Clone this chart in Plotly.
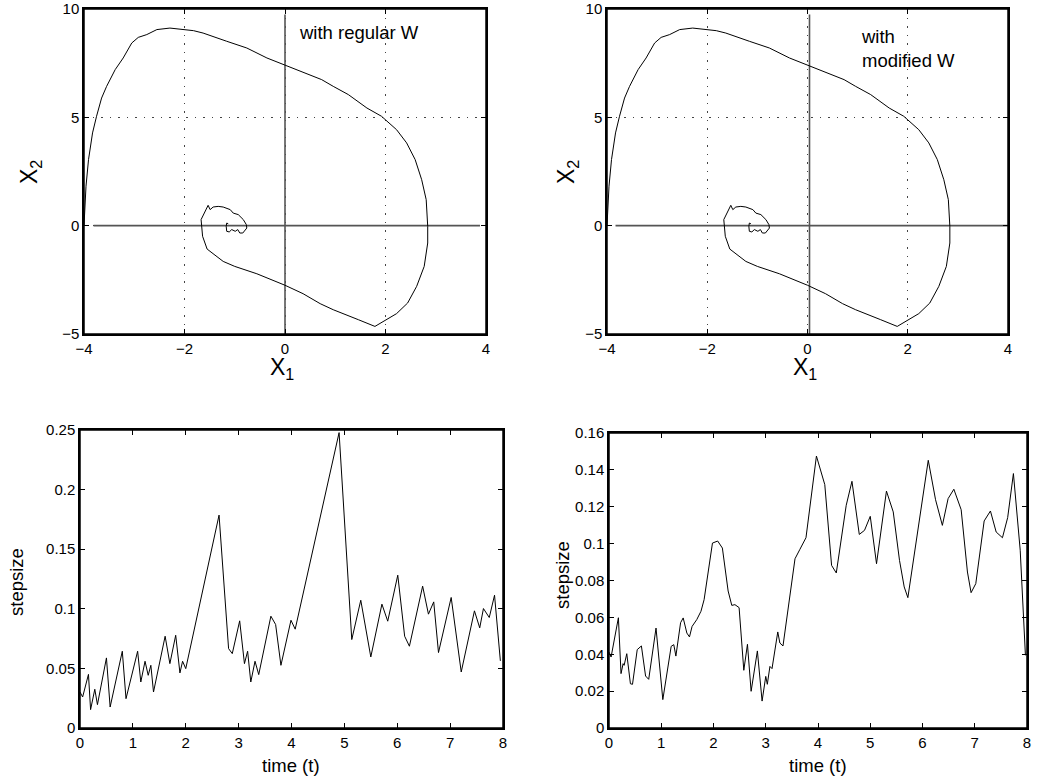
import plotly.graph_objects as go

# ---- phase-plane trajectory (x1, x2) ----
traj_x1 = [-4.0, -3.96, -3.91, -3.83, -3.75, -3.65, -3.55, -3.38, -3.22, -3.05, -2.92, -2.75, -2.55,
           -2.29, -1.82, -1.63, -1.16, -0.76, -0.36, 0.0, 0.36, 0.73, 0.96, 1.26, 1.63, 1.92, 2.22,
           2.42, 2.59, 2.72, 2.81, 2.84, 2.84, 2.77, 2.62, 2.44, 2.22, 1.96, 1.79, 1.46, 0.96, 0.70,
           0.36, 0.0, -0.56, -1.0, -1.23, -1.55, -1.64, -1.67, -1.61, -1.53, -1.49, -1.43, -1.33,
           -1.23, -1.09, -1.03, -0.93, -0.83, -0.77, -0.76, -0.84, -0.90, -0.94, -0.99, -1.06, -1.11,
           -1.16, -1.17, -1.16, -1.13]
traj_x2 = [0.0, 1.82, 3.05, 4.28, 5.05, 5.89, 6.43, 7.2, 7.74, 8.43, 8.69, 8.82, 9.05,
           9.12, 9.0, 8.89, 8.51, 8.2, 7.74, 7.4, 7.08, 6.74, 6.43, 6.05, 5.43, 5.05, 4.43,
           3.82, 3.05, 2.12, 1.2, -0.03, -0.8, -1.88, -2.8, -3.57, -4.06, -4.42, -4.65, -4.34, -3.88, -3.6,
           -3.14, -2.75, -2.22, -1.88, -1.65, -1.08, -0.49, 0.28, 0.58, 0.94, 0.74, 0.86, 0.89,
           0.86, 0.74, 0.58, 0.51, 0.28, 0.05, -0.11, -0.34, -0.34, -0.18, -0.26, -0.18, -0.29,
           -0.26, -0.03, 0.12, 0.09]

# coordinate-axis reference lines drawn in the phase plots
axis_h_left_x = [-3.81, 3.88]
axis_h_right_x = [-3.83, 4.0]
axis_h_y = [0.0, 0.0]
axis_v_left_x = [0.0, 0.0]
axis_v_right_x = [0.04, 0.04]
axis_v_y = [-5.0, 9.75]

# ---- step sizes, regular W ----
t_reg = [0, 0.05, 0.16, 0.2, 0.28, 0.33, 0.5, 0.57, 0.8, 0.87, 1.09, 1.15, 1.23, 1.29, 1.34, 1.39,
         1.61, 1.70, 1.81, 1.89, 1.94, 2.0, 2.63, 2.81, 2.88, 3.02, 3.11, 3.17, 3.23, 3.31, 3.38,
         3.61, 3.70, 3.80, 3.99, 4.07, 4.90, 5.14, 5.31, 5.50, 5.71, 5.82, 6.01, 6.14, 6.23, 6.48,
         6.59, 6.69, 6.78, 7.02, 7.21, 7.46, 7.56, 7.63, 7.74, 7.84, 7.95]
h_reg = [0.0302, 0.026, 0.045, 0.0154, 0.0325, 0.0196, 0.0588, 0.0176, 0.0644, 0.0246, 0.0644,
         0.0386, 0.056, 0.0442, 0.0526, 0.0302, 0.077, 0.054, 0.0778, 0.0462, 0.056, 0.0498,
         0.1786, 0.0666, 0.0624, 0.0899, 0.054, 0.0644, 0.0386, 0.056, 0.0448, 0.0938, 0.0868,
         0.0526, 0.0904, 0.0829, 0.2478, 0.0742, 0.1072, 0.0596, 0.1039, 0.0896, 0.1282, 0.077,
         0.0686, 0.119, 0.0955, 0.1058, 0.0633, 0.1095, 0.047, 0.0983, 0.084, 0.1002, 0.0927,
         0.1114, 0.0563]

# ---- step sizes, modified W ----
t_mod = [0, 0.04, 0.18, 0.23, 0.27, 0.29, 0.34, 0.41, 0.45, 0.54, 0.62, 0.70, 0.76, 0.90, 1.03,
         1.19, 1.24, 1.28, 1.37, 1.42, 1.49, 1.54, 1.59, 1.68, 1.76, 1.82, 1.98, 2.08, 2.17, 2.28,
         2.35, 2.41, 2.49, 2.58, 2.65, 2.72, 2.84, 2.93, 3.00, 3.03, 3.08, 3.12, 3.23, 3.27, 3.33,
         3.56, 3.65, 3.77, 3.97, 4.13, 4.26, 4.35, 4.54, 4.65, 4.79, 4.89, 5.00, 5.12, 5.31, 5.44,
         5.56, 5.65, 5.72, 6.11, 6.25, 6.38, 6.49, 6.60, 6.74, 6.86, 6.93, 7.02, 7.18, 7.30, 7.41,
         7.53, 7.63, 7.74, 7.87, 7.97]
h_mod = [0.0412, 0.0385, 0.0598, 0.0295, 0.0349, 0.034, 0.0403, 0.024, 0.0237, 0.0425, 0.0445,
         0.0282, 0.0264, 0.0542, 0.0154, 0.0443, 0.0452, 0.039, 0.0571, 0.0597, 0.0515, 0.0494,
         0.0551, 0.0588, 0.0633, 0.0696, 0.1003, 0.1014, 0.0976, 0.0743, 0.0665, 0.0669, 0.0653,
         0.0313, 0.0454, 0.0199, 0.0418, 0.0146, 0.028, 0.0237, 0.0334, 0.0322, 0.0521, 0.0461,
         0.0445, 0.0918, 0.0967, 0.1032, 0.1475, 0.132, 0.0882, 0.0841, 0.1208, 0.1338, 0.105,
         0.1072, 0.1148, 0.0891, 0.1285, 0.1172, 0.0909, 0.0765, 0.0707, 0.1452, 0.1238, 0.1099,
         0.1244, 0.1295, 0.1184, 0.0846, 0.0734, 0.0783, 0.1123, 0.1177, 0.1063, 0.1032, 0.1141,
         0.138, 0.0964, 0.0394]

# tick labels
phase_x_ticks = [-4, -2, 0, 2, 4]
phase_x_text = ["\u22124", "\u22122", "0", "2", "4"]
phase_y_ticks = [-5, 0, 5, 10]
phase_y_text = ["\u22125", "0", "5", "10"]
time_ticks = [0, 1, 2, 3, 4, 5, 6, 7, 8]
reg_y_ticks = [0, 0.05, 0.1, 0.15, 0.2, 0.25]
reg_y_text = ["0", "0.05", "0.1", "0.15", "0.2", "0.25"]
mod_y_ticks = [0, 0.02, 0.04, 0.06, 0.08, 0.1, 0.12, 0.14, 0.16]
mod_y_text = ["0", "0.02", "0.04", "0.06", "0.08", "0.1", "0.12", "0.14", "0.16"]

W, H = 1041, 779
FONT = "Liberation Sans, Arial, Helvetica, sans-serif"

fig = go.Figure()

line_style = dict(color="black", width=1)
ax_style = dict(color="#555555", width=1.6)

# top-left
fig.add_trace(go.Scatter(x=axis_h_left_x, y=axis_h_y, mode="lines", line=ax_style, xaxis="x", yaxis="y"))
fig.add_trace(go.Scatter(x=axis_v_left_x, y=axis_v_y, mode="lines", line=ax_style, xaxis="x", yaxis="y"))
fig.add_trace(go.Scatter(x=traj_x1, y=traj_x2, mode="lines", line=line_style, xaxis="x", yaxis="y"))
# top-right
fig.add_trace(go.Scatter(x=axis_h_right_x, y=axis_h_y, mode="lines", line=ax_style, xaxis="x2", yaxis="y2"))
fig.add_trace(go.Scatter(x=axis_v_right_x, y=axis_v_y, mode="lines", line=ax_style, xaxis="x2", yaxis="y2"))
fig.add_trace(go.Scatter(x=traj_x1, y=traj_x2, mode="lines", line=line_style, xaxis="x2", yaxis="y2"))
# bottom
fig.add_trace(go.Scatter(x=t_reg, y=h_reg, mode="lines", line=line_style, xaxis="x3", yaxis="y3"))
fig.add_trace(go.Scatter(x=t_mod, y=h_mod, mode="lines", line=line_style, xaxis="x4", yaxis="y4"))


def px_x(p):
    return p / W


def px_y(p):
    return 1 - p / H


common = dict(showline=True, linecolor="black", linewidth=1.5, mirror="ticks", ticks="inside",
              ticklen=5, tickcolor="black", zeroline=False, automargin=False, ticklabeloverflow="allow",
              tickfont=dict(family=FONT, size=15, color="black"))
grid_on = dict(showgrid=True, gridcolor="#444444", gridwidth=1, griddash="1.5px,7px")
grid_off = dict(showgrid=False)

layout = dict(
    width=W, height=H, showlegend=False,
    paper_bgcolor="white", plot_bgcolor="white",
    margin=dict(l=0, r=0, t=0, b=0),
    font=dict(family=FONT, color="black"),
    xaxis=dict(domain=[px_x(84), px_x(486)], range=[-4, 4], tickvals=phase_x_ticks, ticktext=phase_x_text,
               anchor="y", **common, **grid_on),
    yaxis=dict(domain=[px_y(334), px_y(9)], range=[-5, 10], tickvals=phase_y_ticks, ticktext=phase_y_text,
               anchor="x", **common, **grid_on),
    xaxis2=dict(domain=[px_x(607), px_x(1008)], range=[-4, 4], tickvals=phase_x_ticks, ticktext=phase_x_text,
                anchor="y2", **common, **grid_on),
    yaxis2=dict(domain=[px_y(334), px_y(9)], range=[-5, 10], tickvals=phase_y_ticks, ticktext=phase_y_text,
                anchor="x2", **common, **grid_on),
    xaxis3=dict(domain=[px_x(80), px_x(503)], range=[0, 8], tickvals=time_ticks,
                anchor="y3", **common, **grid_off),
    yaxis3=dict(domain=[px_y(728), px_y(430)], range=[0, 0.25], tickvals=reg_y_ticks, ticktext=reg_y_text,
                anchor="x3", **common, **grid_off),
    xaxis4=dict(domain=[px_x(609), px_x(1027)], range=[0, 8], tickvals=time_ticks,
                anchor="y4", **common, **grid_off),
    yaxis4=dict(domain=[px_y(728), px_y(433)], range=[0, 0.16], tickvals=mod_y_ticks, ticktext=mod_y_text,
                anchor="x4", **common, **grid_off),
)
fig.update_layout(**layout)

# explicit frames around every panel
for xa, ya in [("x", "y"), ("x2", "y2"), ("x3", "y3"), ("x4", "y4")]:
    fig.add_shape(type="rect", xref=f"{xa} domain", yref=f"{ya} domain", x0=0, x1=1, y0=0, y1=1,
                  line=dict(color="black", width=1.5), fillcolor="rgba(0,0,0,0)", layer="above")

ann = []
label_font = dict(family=FONT, size=18.5, color="black")
# in-plot labels
ann.append(dict(x=0.23, y=8.9, xref="x", yref="y", text="with regular W", showarrow=False,
                xanchor="left", yanchor="middle", font=label_font))
ann.append(dict(x=1.03, y=8.2, xref="x2", yref="y2", text="with<br>modified W", showarrow=False,
                xanchor="left", yanchor="middle", align="left", font=label_font))
# axis titles
big = dict(family=FONT, size=23, color="black")
mid = dict(family=FONT, size=18.5, color="black")
for (x, y, txt, ang, f) in [
    (282, 369, "X<sub>1</sub>", 0, big),
    (31, 172, "X<sub>2</sub>", -90, big),
    (805, 369, "X<sub>1</sub>", 0, big),
    (568, 172, "X<sub>2</sub>", -90, big),
    (16, 582, "stepsize", -90, mid),
    (291, 765, "time (t)", 0, mid),
    (562, 575, "stepsize", -90, mid),
    (818, 765, "time (t)", 0, mid),
]:
    ann.append(dict(x=px_x(x), y=px_y(y), xref="paper", yref="paper", text=txt, textangle=ang,
                    showarrow=False, xanchor="center", yanchor="middle", font=f))
fig.update_layout(annotations=ann)

# remove the default 8px page margin so the figure fills the window exactly
fig.write_html("out.html", config={"displayModeBar": False},
               post_script="document.body.style.margin='0px';")
